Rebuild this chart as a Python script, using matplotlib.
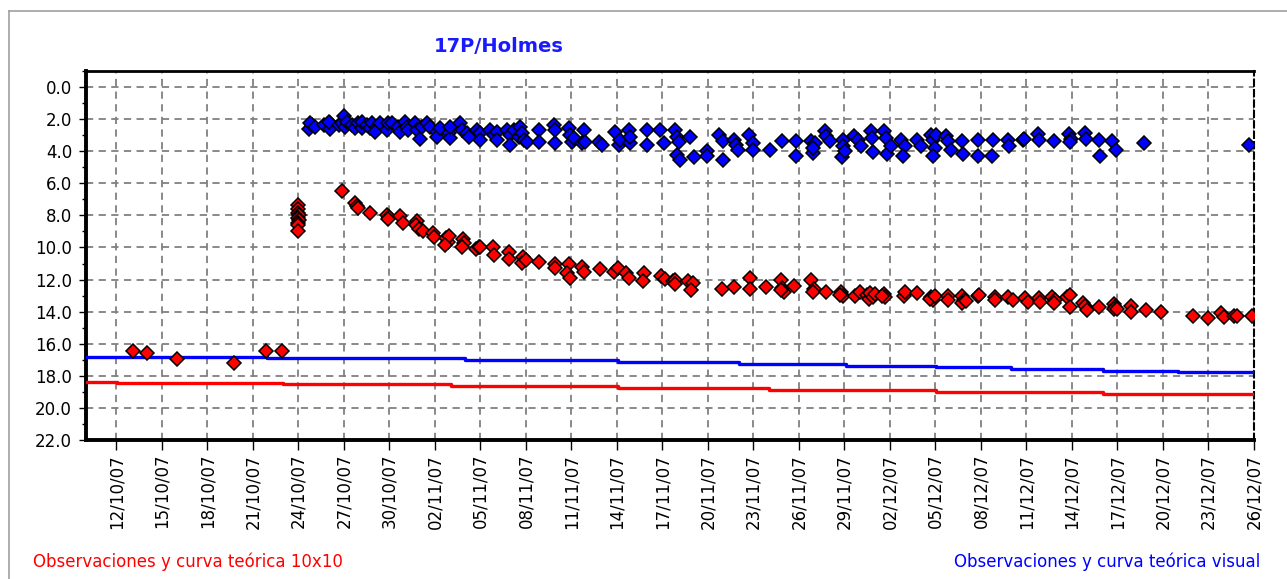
import datetime as dt
import matplotlib
matplotlib.use("Agg")
import matplotlib.pyplot as plt
import matplotlib.dates as mdates
from matplotlib.ticker import MultipleLocator, FormatStrFormatter
from matplotlib.lines import Line2D

# days counted from 10/10/2007
base = dt.datetime(2007, 10, 10)

# observations 10x10 (red)
red_obs = [
    (3.08, 16.43), (4.02, 16.55), (6.0, 16.93), (9.78, 17.2), (11.87, 16.43), (12.93, 16.43),
    (14.0, 7.35), (14.0, 7.6), (13.98, 7.85), (14.02, 8.0), (14.0, 8.15), (14.03, 8.3),
    (13.97, 8.45), (14.0, 8.6), (14.0, 8.95),
    (16.89, 6.48), (17.75, 7.25), (17.85, 7.42), (17.9, 7.56), (18.73, 7.83), (19.85, 8.0),
    (19.95, 8.1), (19.9, 8.25), (20.67, 8.04), (20.93, 8.49), (21.8, 8.35), (21.75, 8.62),
    (21.95, 8.85), (22.2, 8.95), (22.85, 9.1), (22.95, 9.35), (23.7, 9.4), (23.85, 9.65),
    (23.95, 9.3), (23.65, 9.85), (24.85, 9.5), (24.95, 9.7), (24.8, 10.0), (25.7, 10.1),
    (25.9, 10.0), (26.0, 9.95), (26.8, 10.0), (26.9, 10.45), (27.86, 10.26), (27.86, 10.74),
    (28.8, 10.57), (28.75, 10.97), (29.0, 10.8), (29.84, 10.92), (30.9, 11.0), (30.95, 11.3),
    (31.85, 11.03), (31.7, 11.6), (31.9, 11.9), (32.7, 11.2), (32.85, 11.5), (33.9, 11.36),
    (34.8, 11.5), (35.1, 11.3), (35.6, 11.6), (35.8, 11.9), (36.8, 11.6), (36.7, 12.1),
    (37.9, 11.8), (38.2, 11.95), (38.7, 12.1), (38.85, 12.0), (38.85, 12.3), (39.7, 12.1),
    (40.0, 12.2), (39.9, 12.65), (41.9, 12.6), (42.7, 12.48), (43.8, 11.9), (43.8, 12.6),
    (44.85, 12.48), (45.8, 12.0), (45.9, 12.55), (46.0, 12.75), (45.8, 12.65), (46.7, 12.38),
    (47.8, 12.0), (48.0, 12.6), (47.95, 12.8), (48.8, 12.8), (49.8, 12.8), (49.9, 13.0),
    (49.7, 12.95), (50.7, 13.0), (51.0, 12.8), (51.5, 12.95), (51.6, 13.2), (51.7, 12.85),
    (51.9, 13.1), (52.0, 12.9), (52.6, 12.9), (52.7, 13.1), (52.5, 13.0), (53.9, 13.0),
    (54.0, 12.8), (54.8, 12.85), (55.7, 13.1), (55.85, 13.3), (55.65, 13.2), (56.0, 13.0),
    (56.8, 13.0), (56.8, 13.3), (57.75, 13.0), (57.85, 13.3), (57.75, 13.45), (58.0, 13.35),
    (58.8, 13.0), (58.9, 12.95), (59.9, 13.07), (59.95, 13.27), (60.8, 13.1), (61.1, 13.27),
    (61.9, 13.15), (62.1, 13.4), (62.8, 13.15), (62.9, 13.4), (63.7, 13.1), (63.9, 13.27),
    (63.8, 13.45), (64.7, 13.1), (64.9, 12.95), (64.9, 13.7), (65.7, 13.45), (65.85, 13.65),
    (66.0, 13.9), (66.8, 13.7), (67.75, 13.5), (67.85, 13.7), (67.75, 13.85), (68.0, 13.85),
    (68.9, 13.65), (68.9, 14.0), (69.86, 13.9), (70.84, 14.04), (73.0, 14.27), (74.0, 14.37),
    (74.8, 14.1), (75.0, 14.35), (75.7, 14.27), (75.9, 14.27), (76.9, 14.27),
]

# visual observations (blue)
blue_obs = [
    (14.67, 2.64), (14.89, 2.37), (14.78, 2.26), (15.10, 2.47), (15.66, 2.37), (16.10, 2.26),
    (16.10, 2.64), (15.99, 2.16), (16.65, 2.37), (16.86, 2.26), (17.02, 1.81), (17.08, 2.47),
    (17.19, 2.16), (17.52, 2.37), (17.74, 2.58), (17.96, 2.26), (18.18, 2.58), (18.18, 2.16),
    (18.51, 2.37), (18.73, 2.58), (18.84, 2.26), (19.17, 2.47), (19.06, 2.78), (19.39, 2.26),
    (19.83, 2.68), (19.94, 2.26), (20.16, 2.26), (20.60, 2.47), (20.71, 2.78), (21.04, 2.16),
    (21.15, 2.47), (21.26, 2.68), (21.70, 2.26), (21.81, 2.68), (22.03, 3.26), (22.14, 2.47),
    (22.47, 2.26), (22.69, 2.47), (23.13, 2.78), (23.13, 3.09), (23.35, 2.58), (23.90, 2.89),
    (24.01, 3.20), (24.01, 2.47), (24.67, 2.26), (24.78, 2.68), (25.11, 2.89), (25.22, 3.09),
    (25.77, 2.68), (25.99, 2.89), (25.99, 3.30), (26.65, 2.68), (26.87, 2.99), (27.09, 2.78),
    (27.09, 3.30), (27.75, 2.68), (27.97, 2.99), (27.97, 3.61), (28.19, 2.68), (28.52, 3.09),
    (28.63, 2.47), (28.74, 2.89), (28.85, 3.30), (29.07, 3.41), (29.84, 2.68), (29.84, 3.41),
    (30.83, 2.37), (30.94, 2.68), (30.94, 3.51), (31.82, 2.58), (31.93, 2.99), (32.04, 3.41),
    (32.15, 3.20), (32.70, 3.51), (32.81, 2.68), (32.92, 3.41), (33.80, 3.41), (34.02, 3.61),
    (34.89, 2.78), (35.11, 3.61), (35.22, 3.30), (35.77, 2.68), (35.88, 3.51), (35.88, 3.09),
    (36.98, 2.68), (36.98, 3.61), (37.86, 2.68), (38.08, 3.51), (38.85, 2.68), (38.96, 3.09),
    (39.07, 3.41), (38.96, 4.24), (39.18, 4.55), (39.84, 3.09), (40.06, 4.34),
    (40.95, 4.01), (40.95, 4.32), (41.74, 2.97), (41.99, 3.39), (41.99, 4.52), (42.73, 3.28),
    (42.85, 3.59), (42.98, 3.90), (43.72, 2.97), (43.96, 3.49), (43.96, 3.90), (45.07, 3.90),
    (45.89, 3.39), (46.80, 3.39), (46.80, 4.28), (47.79, 3.39), (47.91, 4.11), (48.04, 3.49),
    (47.91, 3.80), (48.70, 2.77), (48.78, 3.08), (49.02, 3.39), (49.89, 3.28), (49.89, 3.70),
    (49.84, 4.36), (50.01, 4.01), (50.63, 3.08), (50.88, 3.28), (51.07, 3.70), (51.74, 2.77),
    (51.81, 3.18), (51.86, 4.07), (52.60, 2.77), (52.73, 3.18), (52.80, 4.15), (53.05, 3.70),
    (53.72, 3.32), (53.96, 3.70), (53.84, 4.28), (54.78, 3.28), (55.02, 3.70), (55.69, 2.97),
    (55.81, 3.28), (55.94, 3.80), (55.81, 4.28), (56.01, 2.97), (56.68, 3.08), (56.80, 3.39),
    (57.00, 3.94), (57.74, 3.39), (57.79, 4.15), (58.78, 3.28), (58.83, 4.28), (59.77, 3.32),
    (59.72, 4.28), (60.75, 3.28), (60.88, 3.70), (61.79, 3.28), (61.86, 3.24), (62.73, 2.91),
    (62.85, 3.28), (63.84, 3.39), (64.83, 2.91), (64.95, 3.24), (64.90, 3.45), (65.89, 2.87),
    (65.94, 3.24), (66.80, 3.32), (66.88, 4.28), (67.67, 3.39), (67.91, 3.94), (69.77, 3.49),
    (76.68, 3.59),
]

# theoretical curves: (start day, magnitude) steps, last entry = end
blue_curve = [(0, 16.80), (11.94, 16.90), (25.0, 17.02), (35.07, 17.13), (43.03, 17.26),
              (50.07, 17.38), (56.05, 17.47), (60.95, 17.57), (67.06, 17.67), (72.0, 17.78),
              (77.0, 17.78)]
red_curve = [(0, 18.36), (2.02, 18.46), (13.0, 18.53), (24.06, 18.63), (35.07, 18.76),
             (45.0, 18.88), (56.05, 19.0), (67.06, 19.12), (77.0, 19.12)]

title = "17P/Holmes"
label_red = "Observaciones y curva teórica 10x10"
label_blue = "Observaciones y curva teórica visual"


def to_dates(days):
    return [base + dt.timedelta(days=d) for d in days]


plt.rcParams['font.family'] = ['DejaVu Sans']
fig = plt.figure(figsize=(12.87, 5.79), dpi=100)

# window frame, only top and left edges are visible
x0, y0 = 8.5 / 1287, 1 - 10.5 / 579
fig.add_artist(Line2D([x0, 1.0], [y0, y0], transform=fig.transFigure,
                      color="#a0a0a0", linewidth=1.2))
fig.add_artist(Line2D([x0, x0], [0.0, y0], transform=fig.transFigure,
                      color="#a0a0a0", linewidth=1.2))

ax = fig.add_axes([86 / 1287, 1 - 440 / 579, (1254 - 86) / 1287, (440 - 71) / 579])

# theoretical curves
for curve, col in ((blue_curve, "#0000ff"), (red_curve, "#ff0000")):
    xs = to_dates([c[0] for c in curve])
    ys = [c[1] for c in curve]
    ax.step(xs, ys, where="post", color=col, linewidth=2.4, zorder=3)

ax.plot(to_dates([p[0] for p in red_obs]), [p[1] for p in red_obs], "D",
        color="#ff0000", markeredgecolor="black", markeredgewidth=1.1,
        markersize=6.8, linestyle="none", zorder=4)
ax.plot(to_dates([p[0] for p in blue_obs]), [p[1] for p in blue_obs], "D",
        color="#0000ff", markeredgecolor="black", markeredgewidth=1.1,
        markersize=6.8, linestyle="none", zorder=4)

ax.set_xlim(base, base + dt.timedelta(days=77))
ax.set_ylim(22, -1)

ax.yaxis.set_major_locator(MultipleLocator(2))
ax.yaxis.set_minor_locator(MultipleLocator(1))
ax.yaxis.set_major_formatter(FormatStrFormatter("%.1f"))
ax.set_xticks(to_dates(range(2, 78, 3)))
ax.xaxis.set_major_formatter(mdates.DateFormatter("%d/%m/%y"))
ax.tick_params(axis="x", labelrotation=90, length=7, width=1, labelsize=12, pad=3)
ax.tick_params(axis="y", which="major", length=5, width=1, labelsize=12, pad=5)
ax.tick_params(axis="y", which="minor", length=3, width=1)

ax.grid(True, which="major", color="#808080", linestyle=(0, (4, 3)), linewidth=1.3)
ax.set_axisbelow(True)

for side in ("left", "bottom"):
    ax.spines[side].set_linewidth(2.8)
ax.spines["top"].set_linewidth(2.0)
ax.spines["right"].set_linewidth(1.5)
ax.spines["right"].set_linestyle((0, (3, 2)))

fig.text(499 / 1287, 1 - 47 / 579, title, color="#1a1aff", fontsize=14,
         fontweight="bold", ha="center", va="center")
fig.text(33 / 1287, 1 - 562 / 579, label_red, color="#ff0000", fontsize=12,
         ha="left", va="center")
fig.text(1260 / 1287, 1 - 562 / 579, label_blue, color="#0000ff", fontsize=12,
         ha="right", va="center")

fig.savefig("out.png", dpi=100)
